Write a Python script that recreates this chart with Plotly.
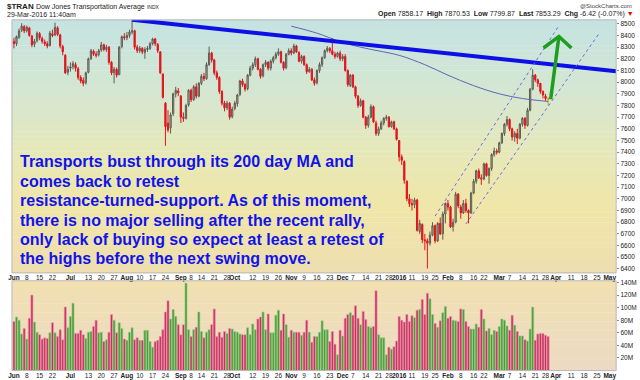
import pandas as pd
import plotly.graph_objects as go

# ---------------- data ----------------
holidays = ["2015-07-03", "2015-09-07", "2015-11-26", "2015-12-25",
            "2016-01-01", "2016-01-18", "2016-02-15", "2016-03-25"]
first_day, last_day, axis_end_day = "2015-06-01", "2016-03-29", "2016-05-10"

opens = [
    8350, 8330, 8385, 8445, 8475, 8440, 8465, 8395, 8325, 8355, 8415, 8375, 8345, 8330, 8315, 8415, 8405, 8465, 8405, 8305, 8230, 8085,
    8120, 8135, 8150, 8115, 8040, 8015, 7995, 8085, 8200, 8265, 8240, 8235, 8275, 8320, 8280, 8300, 8170, 8080, 8110, 8065, 8305, 8390,
    8380, 8400, 8430, 8440, 8300, 8270, 8290, 8255, 8280, 8290, 8330, 8370, 8325, 8260, 8070, 7820, 7650, 7610, 7730, 7900, 7925,
    7880, 7700, 7690, 7805, 7930, 7850, 7960, 7880, 7990, 8050, 8030, 8150, 8250, 8190, 8080, 8040, 7920, 7820, 7780, 7820, 7705,
    7775, 7815, 7895, 8010, 7980, 7945, 8060, 8120, 8150, 8200, 8110, 8055, 8150, 8170, 8120, 8180, 8210, 8240, 8260, 8170, 8125, 8240,
    8270, 8250, 8310, 8255, 8180, 8220, 8150, 8090, 8110, 8020, 7995, 8100, 8150, 8210, 8270, 8290, 8270, 8240, 8220, 8250,
    8200, 8220, 8100, 7970, 8060, 7960, 7880, 7800, 7840, 7700, 7630, 7700, 7790, 7650, 7560, 7600, 7650, 7690, 7700, 7620, 7660, 7600,
    7500, 7360, 7320, 7150, 7000, 6960, 6950, 6990, 6720, 6780, 6650, 6640, 6620, 6690, 6770, 6640, 6790, 6700, 6870,
    6960, 6930, 6760, 6800, 7040, 6930, 6880, 6960, 6900, 6880, 7050, 7150, 7240, 7180, 7170, 7300, 7200, 7260, 7380, 7410,
    7400, 7480, 7560, 7640, 7680, 7600, 7530, 7560, 7520, 7640, 7690, 7630, 7760, 7940, 8060, 8020, 7990, 7920, 7880, 7858.17,
]
highs = [
    8380, 8400, 8460, 8505, 8490, 8485, 8475, 8405, 8370, 8435, 8430, 8390, 8365, 8350, 8440, 8450, 8510, 8480, 8415, 8320, 8240, 8140,
    8170, 8180, 8170, 8130, 8060, 8040, 8090, 8210, 8285, 8280, 8265, 8285, 8345, 8330, 8320, 8310, 8180, 8130, 8125, 8310, 8400, 8420,
    8430, 8450, 8535, 8450, 8320, 8310, 8300, 8300, 8310, 8345, 8380, 8380, 8335, 8265, 8075, 7830, 7760, 7740, 7910, 7960, 7950,
    7890, 7740, 7815, 7940, 7945, 7975, 7990, 8000, 8070, 8080, 8170, 8305, 8260, 8200, 8100, 8050, 7930, 7840, 7840, 7830, 7790,
    7840, 7900, 8020, 8030, 7995, 8070, 8140, 8170, 8220, 8210, 8120, 8160, 8190, 8180, 8195, 8225, 8260, 8290, 8270, 8180, 8250, 8290,
    8290, 8330, 8320, 8265, 8235, 8230, 8160, 8130, 8120, 8040, 8110, 8170, 8220, 8280, 8310, 8300, 8380, 8260, 8260, 8270,
    8240, 8240, 8110, 8070, 8070, 7970, 7890, 7860, 7850, 7710, 7720, 7810, 7800, 7670, 7620, 7670, 7700, 7720, 7710, 7670, 7670, 7610,
    7500, 7380, 7330, 7160, 7040, 7000, 7010, 7000, 6820, 6790, 6700, 6660, 6720, 6800, 6780, 6800, 6840, 6890, 6970,
    6990, 6940, 6830, 7060, 7050, 6950, 6990, 7000, 6910, 7060, 7170, 7250, 7260, 7210, 7310, 7310, 7270, 7390, 7440, 7430,
    7490, 7570, 7650, 7710, 7690, 7610, 7580, 7600, 7650, 7700, 7700, 7780, 7950, 8110, 8070, 8030, 7990, 7930, 7900, 7870.53,
]
lows = [
    8290, 8310, 8370, 8430, 8420, 8425, 8390, 8300, 8300, 8340, 8360, 8330, 8310, 8290, 8305, 8385, 8395, 8395, 8290, 8230, 8070, 8060,
    8090, 8110, 8090, 8020, 7990, 7965, 7980, 8075, 8190, 8225, 8210, 8220, 8260, 8265, 8260, 8150, 8060, 7990, 8040, 8060, 8290, 8360,
    8360, 8380, 8410, 8280, 8250, 8250, 8240, 8200, 8260, 8275, 8315, 8310, 8250, 8070, 7860, 7455, 7570, 7560, 7710, 7870, 7880,
    7650, 7660, 7680, 7790, 7830, 7840, 7860, 7870, 7975, 8010, 8020, 8140, 8170, 8060, 8020, 7900, 7800, 7750, 7760, 7680, 7690,
    7760, 7790, 7880, 7960, 7920, 7930, 8050, 8100, 8130, 8100, 8030, 8040, 8130, 8100, 8100, 8160, 8195, 8225, 8160, 8100, 8110, 8230,
    8230, 8240, 8250, 8170, 8160, 8140, 8070, 8080, 8010, 7970, 7980, 8080, 8130, 8200, 8255, 8250, 8230, 8200, 8210, 8180,
    8180, 8090, 7960, 7960, 7950, 7860, 7780, 7790, 7690, 7600, 7610, 7690, 7650, 7540, 7540, 7590, 7630, 7670, 7610, 7610, 7590, 7500,
    7320, 7290, 7130, 6980, 6930, 6900, 6920, 6720, 6700, 6620, 6560, 6403, 6600, 6680, 6620, 6630, 6690, 6650, 6790,
    6900, 6750, 6720, 6790, 6920, 6830, 6870, 6880, 6790, 6870, 7040, 7130, 7170, 7120, 7160, 7190, 7130, 7240, 7360, 7380,
    7390, 7470, 7540, 7620, 7580, 7500, 7490, 7470, 7510, 7620, 7600, 7620, 7750, 7930, 8000, 7960, 7900, 7860, 7840, 7799.87,
]
closes = [
    8330, 8390, 8440, 8480, 8440, 8470, 8400, 8320, 8350, 8420, 8380, 8350, 8330, 8310, 8420, 8400, 8470, 8410, 8310, 8260, 8080, 8110,
    8130, 8160, 8120, 8040, 8010, 7990, 8080, 8200, 8270, 8240, 8230, 8270, 8320, 8280, 8300, 8170, 8080, 8110, 8060, 8300, 8390, 8380,
    8400, 8430, 8440, 8300, 8270, 8290, 8260, 8280, 8290, 8330, 8370, 8330, 8270, 8080, 7870, 7620, 7590, 7720, 7900, 7930, 7910,
    7700, 7690, 7800, 7930, 7850, 7960, 7880, 7990, 8050, 8030, 8150, 8250, 8190, 8080, 8040, 7920, 7820, 7780, 7820, 7700, 7770,
    7820, 7890, 8010, 7980, 7940, 8060, 8120, 8150, 8200, 8110, 8050, 8150, 8170, 8120, 8180, 8210, 8240, 8260, 8170, 8120, 8240, 8270,
    8250, 8310, 8260, 8180, 8220, 8150, 8090, 8110, 8020, 7990, 8100, 8150, 8210, 8270, 8290, 8270, 8240, 8220, 8250, 8200,
    8220, 8100, 7980, 8060, 7960, 7880, 7800, 7840, 7700, 7630, 7700, 7790, 7660, 7560, 7600, 7650, 7690, 7700, 7620, 7660, 7600, 7510,
    7360, 7330, 7160, 7000, 6960, 6950, 6990, 6730, 6790, 6650, 6640, 6620, 6690, 6770, 6640, 6790, 6700, 6870, 6960,
    6930, 6760, 6800, 7040, 6940, 6880, 6960, 6900, 6880, 7050, 7150, 7240, 7180, 7170, 7300, 7200, 7260, 7380, 7410, 7400,
    7480, 7560, 7640, 7680, 7600, 7530, 7560, 7520, 7640, 7690, 7630, 7760, 7940, 8060, 8020, 7990, 7920, 7890, 7859.71, 7853.29,
]
prior_close = 8350  # close of 29-May-2015

volume_m = [
    78, 85, 80, 58, 67, 50, 83, 120, 77, 61, 57, 50, 52, 51, 60, 76, 60, 54, 65, 49, 101, 68,
    86, 107, 59, 59, 64, 57, 51, 61, 62, 70, 80, 60, 61, 46, 49, 61, 89, 80, 60, 76, 67, 50,
    48, 61, 68, 49, 52, 48, 48, 64, 64, 46, 37, 46, 48, 54, 65, 93, 111, 82, 97, 86, 73,
    57, 73, 139, 65, 54, 65, 69, 93, 62, 52, 61, 65, 73, 98, 54, 61, 53, 62, 59, 67, 66,
    62, 61, 58, 57, 57, 68, 57, 74, 65, 82, 85, 93, 65, 90, 60, 60, 88, 96, 64, 90, 73, 53,
    64, 61, 61, 61, 56, 61, 80, 61, 45, 54, 54, 61,
    79, 65, 65, 46, 62, 42, 25, 64,
    55, 83, 89, 92, 88, 103, 83, 73, 94, 81, 70, 68, 70, 127, 57, 52, 52, 25, 37, 34, 38, 47,
    86, 80, 77, 89, 78, 87, 84, 96, 97, 113, 89, 123, 114, 89, 75, 69, 79, 92, 102,
    83, 86, 80, 79, 78, 98, 97, 78, 70, 66, 66, 74, 69, 97, 82, 63, 67, 57, 64, 62,
    70, 82, 80, 71, 64, 88, 72, 62, 55, 55, 49, 47, 66, 101, 48, 58, 59, 59, 56, 54,
]

ma_dates = ["2015-11-02", "2015-11-16", "2015-12-01", "2015-12-14", "2016-01-04", "2016-01-19",
            "2016-02-01", "2016-02-16", "2016-03-01", "2016-03-14", "2016-03-29"]
ma_values = [8480, 8420, 8340, 8290, 8230, 8150, 8060, 7970, 7900, 7860, 7835]

trend_dates = ["2015-08-05", "2016-05-04 12:00"]
trend_values = [8535, 8094]
upper_chan_dates = ["2016-01-25", "2016-04-04"]
upper_chan_values = [6853, 8477]
lower_chan_dates = ["2016-02-10", "2016-04-25 14:00"]
lower_chan_values = [6785, 8409]
arrow_shaft_dates = ["2016-03-30", "2016-04-04 05:00"]
arrow_shaft_values = [7854, 8392]
arrow_head_dates = ["2016-03-24 05:00", "2016-04-04 05:00", "2016-04-11 02:00"]
arrow_head_values = [8293, 8392, 8293]

tick_dates = ["2015-06-01", "2015-06-08", "2015-06-15", "2015-06-22", "2015-07-01", "2015-07-13",
              "2015-07-20", "2015-07-27", "2015-08-03", "2015-08-10", "2015-08-17", "2015-08-24",
              "2015-09-01", "2015-09-08", "2015-09-14", "2015-09-21", "2015-09-28", "2015-10-01",
              "2015-10-12", "2015-10-19", "2015-10-26", "2015-11-02", "2015-11-09", "2015-11-16",
              "2015-11-23", "2015-12-01", "2015-12-07", "2015-12-14", "2015-12-21", "2015-12-28",
              "2016-01-04", "2016-01-11", "2016-01-19", "2016-01-25", "2016-02-01", "2016-02-08",
              "2016-02-16", "2016-02-22", "2016-03-01", "2016-03-07", "2016-03-14", "2016-03-21",
              "2016-03-28", "2016-04-01", "2016-04-11", "2016-04-18", "2016-04-25", "2016-05-02"]
tick_labels = ["Jun", "8", "15", "22", "Jul", "13", "20", "27", "Aug", "10", "17", "24",
               "Sep", "8", "14", "21", "28", "Oct", "12", "19", "26", "Nov", "9", "16",
               "23", "Dec", "7", "14", "21", "28", "2016", "11", "19", "25", "Feb", "8",
               "16", "22", "Mar", "7", "14", "21", "28", "Apr", "11", "18", "25", "May"]
price_ticks = list(range(6400, 8501, 100))
volume_ticks = [20, 40, 60, 80, 100, 120, 140]

# ---------------- trading-day scale ----------------
calendar = [d for d in pd.bdate_range(first_day, axis_end_day)
            if d.strftime("%Y-%m-%d") not in holidays]
day_index = {d: i for i, d in enumerate(calendar)}
n_days = len([d for d in calendar if d <= pd.Timestamp(last_day)])
days = list(range(n_days))


def tpos(s):
    t = pd.Timestamp(s)
    d = t.normalize()
    return day_index[d] + (t - d) / pd.Timedelta(days=1)


def tlist(seq):
    return [tpos(s) for s in seq]


# ---------------- figure ----------------
W, H = 640, 380
PX_L, PX_R = 8, 616
P_TOP, P_BOT = 18, 273
V_TOP, V_BOT = 281, 371.5
X_RANGE = [-0.77, 234.5]


def fy(py):
    return 1 - py / H


fig = go.Figure()


def lerp_stops(stops, t):
    for (t0, c0), (t1, c1) in zip(stops, stops[1:]):
        if t0 <= t <= t1:
            f = (t - t0) / (t1 - t0) if t1 > t0 else 0
            return tuple(int(round(a + (b - a) * f)) for a, b in zip(c0, c1))
    return stops[-1][1]


price_stops = [(0.0, (196, 227, 226)), (0.3, (214, 231, 208)), (0.55, (232, 232, 182)),
               (0.75, (240, 230, 168)), (1.0, (238, 222, 176))]
vol_stops = [(0.0, (241, 224, 176)), (1.0, (236, 218, 196))]
shapes = []
N = 50
for k in range(N):
    c = lerp_stops(price_stops, (k + 0.5) / N)
    shapes.append(dict(type="rect", xref="paper", yref="paper", layer="below",
                       x0=PX_L / W, x1=PX_R / W,
                       y0=fy(P_TOP + (P_BOT - P_TOP) * (k + 1) / N) - 0.001,
                       y1=fy(P_TOP + (P_BOT - P_TOP) * k / N),
                       line=dict(width=0), fillcolor="rgb(%d,%d,%d)" % c))
for k in range(20):
    c = lerp_stops(vol_stops, (k + 0.5) / 20)
    shapes.append(dict(type="rect", xref="paper", yref="paper", layer="below",
                       x0=PX_L / W, x1=PX_R / W,
                       y0=fy(V_TOP + (V_BOT - V_TOP) * (k + 1) / 20) - 0.001,
                       y1=fy(V_TOP + (V_BOT - V_TOP) * k / 20),
                       line=dict(width=0), fillcolor="rgb(%d,%d,%d)" % c))
for (t_, b_) in [(P_TOP, P_BOT), (V_TOP, V_BOT)]:
    shapes.append(dict(type="rect", xref="paper", yref="paper", layer="above",
                       x0=PX_L / W, x1=PX_R / W, y0=fy(b_), y1=fy(t_),
                       line=dict(color="#b8b8b8", width=1)))

fig.add_trace(go.Candlestick(
    x=days[:-1], open=opens[:-1], high=highs[:-1], low=lows[:-1], close=closes[:-1],
    increasing=dict(line=dict(color="#5c5c52", width=1), fillcolor="rgba(150,150,128,0.55)"),
    decreasing=dict(line=dict(color="#e2141c", width=1), fillcolor="#e2141c"),
    whiskerwidth=0, xaxis="x", yaxis="y", showlegend=False, hoverinfo="skip"))
fig.add_trace(go.Candlestick(
    x=days[-1:], open=opens[-1:], high=highs[-1:], low=lows[-1:], close=closes[-1:],
    increasing=dict(line=dict(color="#d89a00", width=1), fillcolor="#ffe21a"),
    decreasing=dict(line=dict(color="#d89a00", width=1), fillcolor="#ffe21a"),
    whiskerwidth=0, xaxis="x", yaxis="y", showlegend=False, hoverinfo="skip"))

fig.add_trace(go.Scatter(x=tlist(ma_dates), y=ma_values, mode="lines",
                         line=dict(color="#6262b4", width=1, shape="spline"),
                         xaxis="x", yaxis="y", showlegend=False, hoverinfo="skip"))
fig.add_trace(go.Scatter(x=tlist(trend_dates), y=trend_values, mode="lines",
                         line=dict(color="#0c10e6", width=4),
                         xaxis="x", yaxis="y", showlegend=False, hoverinfo="skip"))
for cx, cy in [(upper_chan_dates, upper_chan_values), (lower_chan_dates, lower_chan_values)]:
    fig.add_trace(go.Scatter(x=tlist(cx), y=cy, mode="lines",
                             line=dict(color="#6a6ae6", width=1, dash="dot"),
                             xaxis="x", yaxis="y", showlegend=False, hoverinfo="skip"))
fig.add_trace(go.Scatter(x=tlist(arrow_shaft_dates), y=arrow_shaft_values, mode="lines",
                         line=dict(color="#1e9e1e", width=3.5),
                         xaxis="x", yaxis="y", showlegend=False, hoverinfo="skip"))
fig.add_trace(go.Scatter(x=tlist(arrow_head_dates), y=arrow_head_values, mode="lines",
                         line=dict(color="#1e9e1e", width=3.5),
                         xaxis="x", yaxis="y", showlegend=False, hoverinfo="skip"))

vol_colors, vol_edges = [], []
prev = prior_close
for c in closes:
    if c >= prev:
        vol_colors.append("#4f9a3c"); vol_edges.append("#9cd08a")
    else:
        vol_colors.append("#c8305c"); vol_edges.append("#eb9ab2")
    prev = c
fig.add_trace(go.Bar(x=days, y=volume_m,
                     marker=dict(color=vol_colors, line=dict(color=vol_edges, width=0.6)),
                     xaxis="x2", yaxis="y2", showlegend=False, hoverinfo="skip"))

# ---------------- text ----------------
FONT = "Liberation Sans, Arial, sans-serif"
ann = []
note_lines = ["Transports bust through its 200 day MA and",
              "comes back to retest",
              "resistance-turned-support. As of this moment,",
              "there is no major selling after the recent rally,",
              "only lack of buying so expect at least a retest of",
              "the highs before the next swing move."]
note_y = [161, 181, 200, 220, 239, 259]
for txt, yy in zip(note_lines, note_y):
    ann.append(dict(text="<b>%s</b>" % txt, xref="paper", yref="paper", x=14 / W, y=fy(yy),
                    xanchor="left", yanchor="middle", showarrow=False,
                    font=dict(family=FONT, size=16, color="#1212ea")))
ann.append(dict(text="<b>$TRAN</b> <span style='font-size:7px'>Dow Jones Transportation Average</span> <span style='font-size:5px'>INDX</span>",
                xref="paper", yref="paper", x=1 / W, y=fy(5), xanchor="left", yanchor="middle",
                showarrow=False, font=dict(family=FONT, size=8, color="#222")))
ann.append(dict(text="29-Mar-2016 11:40am", xref="paper", yref="paper", x=1 / W, y=fy(12.5),
                xanchor="left", yanchor="middle", showarrow=False,
                font=dict(family=FONT, size=7, color="#222")))
ann.append(dict(text="@StockCharts.com", xref="paper", yref="paper", x=634 / W, y=fy(4),
                xanchor="right", yanchor="middle", showarrow=False,
                font=dict(family=FONT, size=6, color="#444")))
ann.append(dict(text="<b>Open</b> 7858.17  <b>High</b> 7870.53  <b>Low</b> 7799.87  <b>Last</b> 7853.29  <b>Chg</b> -6.42 (-0.07%) <span style='color:#e00000'>▼</span>",
                xref="paper", yref="paper", x=636 / W, y=fy(12.5),
                xanchor="right", yanchor="middle", showarrow=False,
                font=dict(family=FONT, size=7, color="#222")))

month_names = {"Jun", "Jul", "Aug", "Sep", "Oct", "Nov", "Dec", "2016", "Feb", "Mar", "Apr", "May"}
tick_text = ["<b>%s</b>" % t if t in month_names else t for t in tick_labels]

xcommon = dict(range=X_RANGE, tickmode="array", tickvals=tlist(tick_dates), ticktext=tick_text,
               tickangle=0, ticks="", showgrid=False, zeroline=False, showline=False,
               tickfont=dict(family=FONT, size=6.5, color="#222"),
               rangeslider=dict(visible=False), domain=[PX_L / W, PX_R / W])

fig.update_layout(
    width=W, height=H, margin=dict(l=0, r=0, t=0, b=0),
    paper_bgcolor="white", plot_bgcolor="rgba(0,0,0,0)",
    xaxis=dict(xcommon, anchor="y"),
    xaxis2=dict(xcommon, anchor="y2", matches="x"),
    yaxis=dict(domain=[fy(P_BOT), fy(P_TOP)], range=[6366, 8534], side="right",
               tickmode="array", tickvals=price_ticks, ticks="outside", ticklen=2, tickcolor="#888",
               showgrid=False, zeroline=False,
               tickfont=dict(family=FONT, size=6.5, color="#222")),
    yaxis2=dict(domain=[fy(V_BOT), fy(V_TOP)], range=[0, 142.7], side="right",
                tickmode="array", tickvals=volume_ticks, ticktext=["%dM" % v for v in volume_ticks],
                ticks="outside", ticklen=2, tickcolor="#888", showgrid=False, zeroline=False,
                tickfont=dict(family=FONT, size=6.5, color="#222")),
    shapes=shapes, annotations=ann, bargap=0.18,
)

fig.write_html("out.html", config={"displayModeBar": False, "staticPlot": True},
               post_script="document.body.style.margin='0';document.body.style.overflow='hidden';")
